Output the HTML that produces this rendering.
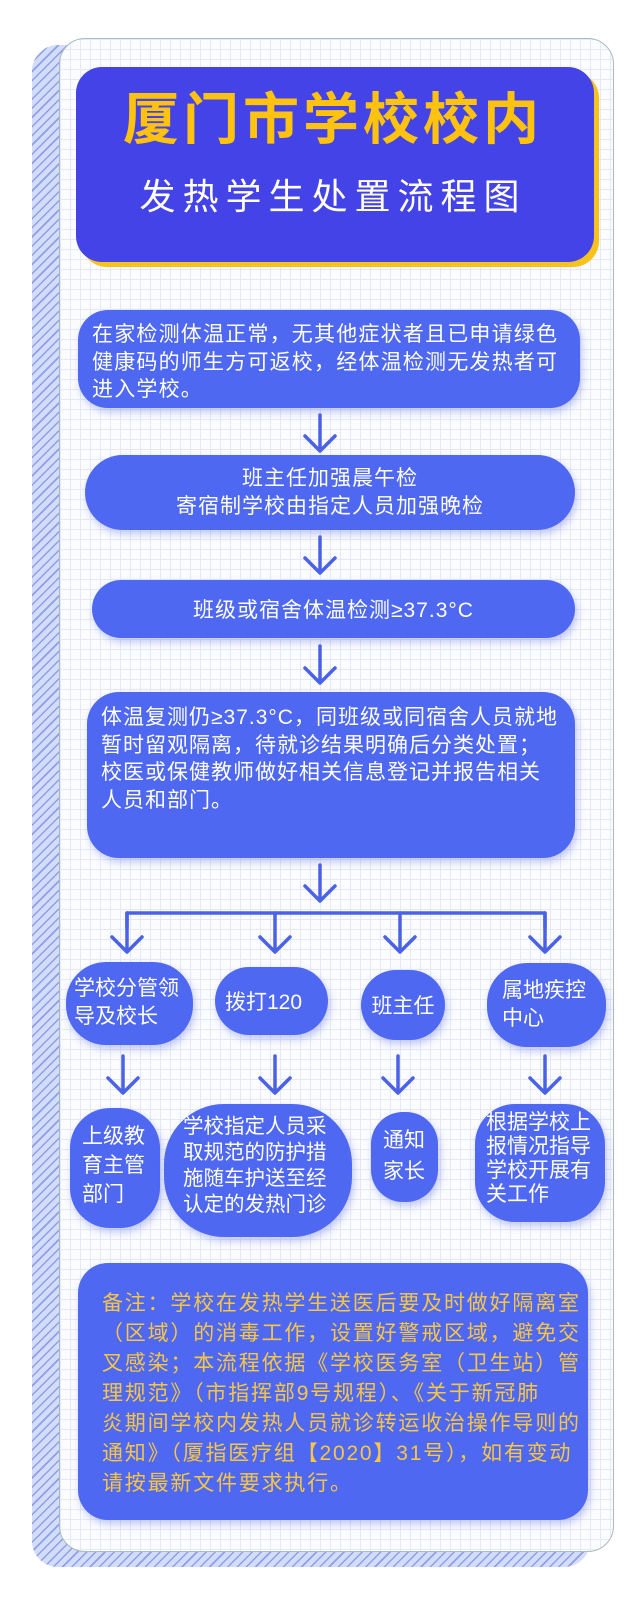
<!DOCTYPE html>
<html><head><meta charset="utf-8">
<style>
*{margin:0;padding:0;box-sizing:border-box}
body{width:640px;height:1600px;background:#fff;position:relative;overflow:hidden;font-family:"Liberation Sans","Noto Sans CJK SC",sans-serif}
.hatch{position:absolute;left:32px;top:45px;width:558px;height:1522px;border-radius:26px;
background:repeating-linear-gradient(135deg,#d3dcfa 0 5px,#8d9fe6 5px 6.5px);}
.card{position:absolute;left:59px;top:38px;width:555px;height:1514px;border-radius:26px;border:1.5px solid #a9bcb8;
background-color:#fbfcff;
background-image:linear-gradient(#e6e9f4 1px,transparent 1px),linear-gradient(90deg,#e6e9f4 1px,transparent 1px);
background-size:10px 10px;}
.title{position:absolute;left:76px;top:67px;width:518px;height:195px;background:#4343e8;border-radius:26px;
box-shadow:5px 5px 0 #f7c21b;}
.t1{position:absolute;left:0;width:100%;top:90px;padding-left:26px;text-align:center;color:#ffc20e;font-weight:bold;font-size:56px;letter-spacing:4px;line-height:60px}
.t2{position:absolute;left:0;width:100%;top:175px;padding-left:26px;text-align:center;color:#fff;font-size:36px;letter-spacing:7px;line-height:44px}
.n{position:absolute;background:#4f68f2;color:#fff;font-size:21px;box-shadow:2px 4px 8px rgba(80,100,220,.35)}
.c{display:flex;align-items:center;justify-content:center;text-align:center}
</style></head><body>
<div class="hatch"></div>
<div class="card"></div>
<div class="title"></div>
<div class="t1">厦门市学校校内</div>
<div class="t2">发热学生处置流程图</div>

<div class="n" style="left:78px;top:310px;width:502px;height:98px;border-radius:30px;padding:11px 0 0 14px;line-height:27.5px;letter-spacing:1.2px">在家检测体温正常，无其他症状者且已申请绿色<br>健康码的师生方可返校，经体温检测无发热者可<br>进入学校。</div>
<div class="n c" style="left:85px;top:455px;width:490px;height:75px;border-radius:38px;line-height:28px;letter-spacing:1px">班主任加强晨午检<br>寄宿制学校由指定人员加强晚检</div>
<div class="n c" style="left:92px;top:580px;width:483px;height:58px;border-radius:29px;letter-spacing:1px">班级或宿舍体温检测≥37.3°C</div>
<div class="n" style="left:87px;top:692px;width:488px;height:166px;border-radius:32px;padding:12px 0 0 14px;line-height:27.7px;letter-spacing:1px">体温复测仍≥37.3°C，同班级或同宿舍人员就地<br>暂时留观隔离，待就诊结果明确后分类处置；<br>校医或保健教师做好相关信息登记并报告相关<br>人员和部门。</div>

<div class="n" style="left:66px;top:962px;width:127px;height:83px;border-radius:40px;padding:13px 0 0 8px;line-height:28px">学校分管领<br>导及校长</div>
<div class="n c" style="left:215px;top:967px;width:113px;height:68px;border-radius:34px;justify-content:flex-start;padding-left:10px">拨打120</div>
<div class="n c" style="left:361px;top:970px;width:84px;height:70px;border-radius:35px">班主任</div>
<div class="n" style="left:487px;top:963px;width:119px;height:84px;border-radius:40px;padding:14px 0 0 15px;line-height:28px">属地疾控<br>中心</div>

<div class="n" style="left:70px;top:1108px;width:90px;height:120px;border-radius:40px;padding:14px 0 0 12px;line-height:29px">上级教<br>育主管<br>部门</div>
<div class="n" style="left:164px;top:1104px;width:188px;height:133px;border-radius:60px;padding:10px 0 0 19px;line-height:26px;font-size:20.5px">学校指定人员采<br>取规范的防护措<br>施随车护送至经<br>认定的发热门诊</div>
<div class="n" style="left:371px;top:1112px;width:67px;height:90px;border-radius:32px;padding:13px 0 0 12px;line-height:31px">通知<br>家长</div>
<div class="n" style="left:475px;top:1104px;width:130px;height:118px;border-radius:40px;padding:7px 0 0 11px;line-height:24px">根据学校上<br>报情况指导<br>学校开展有<br>关工作</div>

<div class="n" style="left:78px;top:1263px;width:510px;height:257px;border-radius:30px;color:#f6c644;padding:26px 0 0 24px;line-height:30px;letter-spacing:1.8px">备注：学校在发热学生送医后要及时做好隔离室<br>（区域）的消毒工作，设置好警戒区域，避免交<br>叉感染；本流程依据《学校医务室（卫生站）管<br>理规范》（市指挥部9号规程）、《关于新冠肺<br>炎期间学校内发热人员就诊转运收治操作导则的<br>通知》（厦指医疗组【2020】31号），如有变动<br>请按最新文件要求执行。</div>

<svg width="640" height="1600" style="position:absolute;left:0;top:0" fill="none" stroke="#4a62e6" stroke-width="3.5" stroke-linecap="round" stroke-linejoin="round">
<path d="M320 415V450M305 436L320 451L335 436"/>
<path d="M320 537V572M305 558L320 573L335 558"/>
<path d="M320 646V682M305 668L320 683L335 668"/>
<path d="M320 865V900M305 886L320 901L335 886"/>
<path d="M127 928V913H545V928"/>
<path d="M127 913V951M112 937L127 952L142 937"/>
<path d="M275 913V951M260 937L275 952L290 937"/>
<path d="M400 913V951M385 937L400 952L415 937"/>
<path d="M545 913V951M530 937L545 952L560 937"/>
<path d="M123 1056V1092M108 1078L123 1093L138 1078"/>
<path d="M275 1056V1092M260 1078L275 1093L290 1078"/>
<path d="M398 1056V1092M383 1078L398 1093L413 1078"/>
<path d="M545 1056V1092M530 1078L545 1093L560 1078"/>
</svg>
</body></html>
